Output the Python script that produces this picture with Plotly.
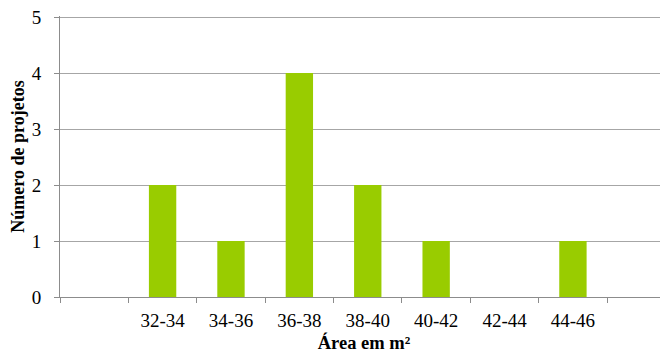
import plotly.graph_objects as go

categories = [" ", "32-34", "34-36", "36-38", "38-40", "40-42", "42-44", "44-46", "  "]
counts = [0, 2, 1, 4, 2, 1, 0, 1, 0]
y_ticks = [0, 1, 2, 3, 4, 5]

font_fam = "Times New Roman, Liberation Serif, serif"

fig = go.Figure()
fig.add_trace(go.Bar(
    x=categories, y=counts, width=0.40,
    marker=dict(color="#99CC00", line=dict(width=0)),
))

fig.update_layout(
    width=660, height=349,
    margin=dict(l=52, r=0, t=8, b=60),
    plot_bgcolor="white", paper_bgcolor="white",
    showlegend=False,
    font=dict(family=font_fam, color="black", size=19),
    xaxis=dict(
        type="category", categoryorder="array", categoryarray=categories,
        range=[-0.5, 8.39], tickson="boundaries", automargin=False,
        ticks="outside", ticklen=5, tickcolor="#8c8c8c", tickwidth=1,
        showline=True, linecolor="#8c8c8c", linewidth=1,
        showgrid=False, ticklabelstandoff=6,
        tickfont=dict(size=19, family=font_fam),
        title=dict(text="<b>Área em m²</b>", font=dict(size=18.5, family=font_fam), standoff=6),
    ),
    yaxis=dict(
        range=[0, 5.02], tickvals=y_ticks, automargin=False,
        ticklabeloverflow="allow",
        ticks="outside", ticklen=5, tickcolor="#8c8c8c", tickwidth=1,
        showline=True, linecolor="#8c8c8c", linewidth=1,
        showgrid=True, gridcolor="#a6a6a6", gridwidth=1,
        zeroline=False, ticklabelstandoff=9,
        tickfont=dict(size=19, family=font_fam),
        title=dict(text="<b>Número de projetos</b>", font=dict(size=18, family=font_fam), standoff=8),
    ),
)

fig.write_html("out.html")
